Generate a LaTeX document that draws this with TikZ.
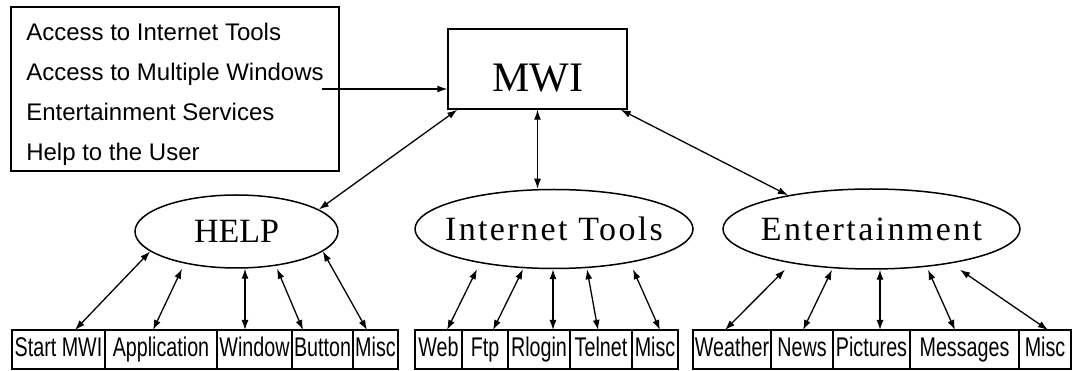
\documentclass[tikz,border=0pt]{standalone}
\usepackage{fontspec}
\newfontfamily\infofont{Liberation Sans}
\newfontfamily\leaffont[FakeStretch=0.73]{Liberation Sans}
\newfontfamily\titlefont{Liberation Serif}
\newfontfamily\ovalfont[LetterSpace=7]{Liberation Serif}
\usetikzlibrary{arrows.meta,shapes.geometric,positioning}

\begin{document}
\begin{tikzpicture}[x=1pt, y=-1pt, line width=1.3pt, >={Latex[length=10pt,width=7pt]},
    box/.style={rectangle, draw, line width=1.5pt},
    oval/.style={ellipse, draw, line width=1.5pt, inner sep=0pt},
    leaf/.style={rectangle, draw, line width=1.2pt, inner sep=0pt, outer sep=0pt, minimum height=39pt, text height=19pt, text depth=4pt, font=\leaffont\fontsize{27}{30}\selectfont}]
    \useasboundingbox (0,0) rectangle (1072,371);

    \node(info) [box, minimum width=328pt, minimum height=164pt, align=left, font=\infofont\fontsize{24}{40}\selectfont] at (175,89) {\rule{0pt}{28pt}Access to Internet Tools\\ Access to Multiple Windows\\ Entertainment Services\\ Help to the User};
    \node(mwi) [box, minimum width=179pt, minimum height=80pt, text height=45pt, font=\titlefont\fontsize{42}{48}\selectfont] at (537.5,69) {MWI};

    \node(help) [oval, minimum width=203pt, minimum height=73pt, font=\titlefont\fontsize{34}{40}\selectfont] at (236.5,231.5) {\makebox[0pt]{HELP}};
    \node(itools) [oval, minimum width=278pt, minimum height=79pt, font=\ovalfont\fontsize{34}{40}\selectfont] at (554,229) {\makebox[0pt]{Internet Tools}};
    \node(ent) [oval, minimum width=297pt, minimum height=80pt, font=\ovalfont\fontsize{34}{40}\selectfont] at (871.5,229) {\makebox[0pt]{Entertainment}};

    \node(startmwi) [leaf, minimum width=93pt] at (58.5,349.5) {Start MWI};
    \node(appl) [leaf, minimum width=112pt, right=0pt of startmwi] {Application};
    \node(window) [leaf, minimum width=75pt, right=0pt of appl] {Window};
    \node(button) [leaf, minimum width=61pt, right=0pt of window] {Button};
    \node(hmisc) [leaf, minimum width=45pt, right=0pt of button] {Misc};

    \node(web) [leaf, minimum width=47pt] at (438.5,349.5) {Web};
    \node(ftp) [leaf, minimum width=46pt, right=0pt of web] {Ftp};
    \node(rlogin) [leaf, minimum width=62pt, right=0pt of ftp] {Rlogin};
    \node(telnet) [leaf, minimum width=62pt, right=0pt of rlogin] {Telnet};
    \node(imisc) [leaf, minimum width=46pt, right=0pt of telnet] {Misc};

    \node(weather) [leaf, minimum width=78pt] at (732,349.5) {Weather};
    \node(news) [leaf, minimum width=62pt, right=0pt of weather] {News};
    \node(pictures) [leaf, minimum width=77pt, right=0pt of news] {Pictures};
    \node(messages) [leaf, minimum width=109pt, right=0pt of pictures] {Messages};
    \node(emisc) [leaf, minimum width=52pt, right=0pt of messages] {Misc};

    \coordinate(src) at (322,89);
    \draw[->] (src) -- (src -| mwi.west);
    \draw[<->] ([xshift=10pt]mwi.south west) -- (help.15);
    \draw[<->] (mwi.south) -- (mwi.south |- itools.north);
    \draw[<->] ([xshift=-7pt]mwi.south east) -- (ent.158);

    \draw[<->] (help.193) -- ([xshift=16.5pt]startmwi.north);
    \draw[<->] ([xshift=-54.5pt]help.south) -- ([xshift=-8pt]appl.north);
    \draw[<->] ([xshift=8.5pt]help.south) -- ([xshift=-9.5pt]window.north);
    \draw[<->] ([xshift=40.5pt]help.south) -- ([xshift=-19.5pt]button.north);
    \draw[<->] (help.347) -- ([xshift=-8.5pt]hmisc.north);

    \draw[<->] ([xshift=-77pt]itools.south) -- ([xshift=8.5pt]web.north);
    \draw[<->] ([xshift=-31pt]itools.south) -- ([xshift=8pt]ftp.north);
    \draw[<->] ([xshift=-1pt]itools.south) -- ([xshift=14pt]rlogin.north);
    \draw[<->] ([xshift=33pt]itools.south) -- ([xshift=-3pt]telnet.north);
    \draw[<->] ([xshift=79pt]itools.south) -- ([xshift=5pt]imisc.north);

    \draw[<->] ([xshift=-86.5pt]ent.south) -- ([xshift=-7pt]weather.north);
    \draw[<->] ([xshift=-39.5pt]ent.south) -- ([xshift=1pt]news.north);
    \draw[<->] ([xshift=8.5pt]ent.south) -- ([xshift=8.5pt]pictures.north);
    \draw[<->] ([xshift=56.5pt]ent.south) -- ([xshift=-9.5pt]messages.north);
    \draw[<->] ([xshift=88.5pt]ent.south) -- ([xshift=3pt]emisc.north);
\end{tikzpicture}
\end{document}
